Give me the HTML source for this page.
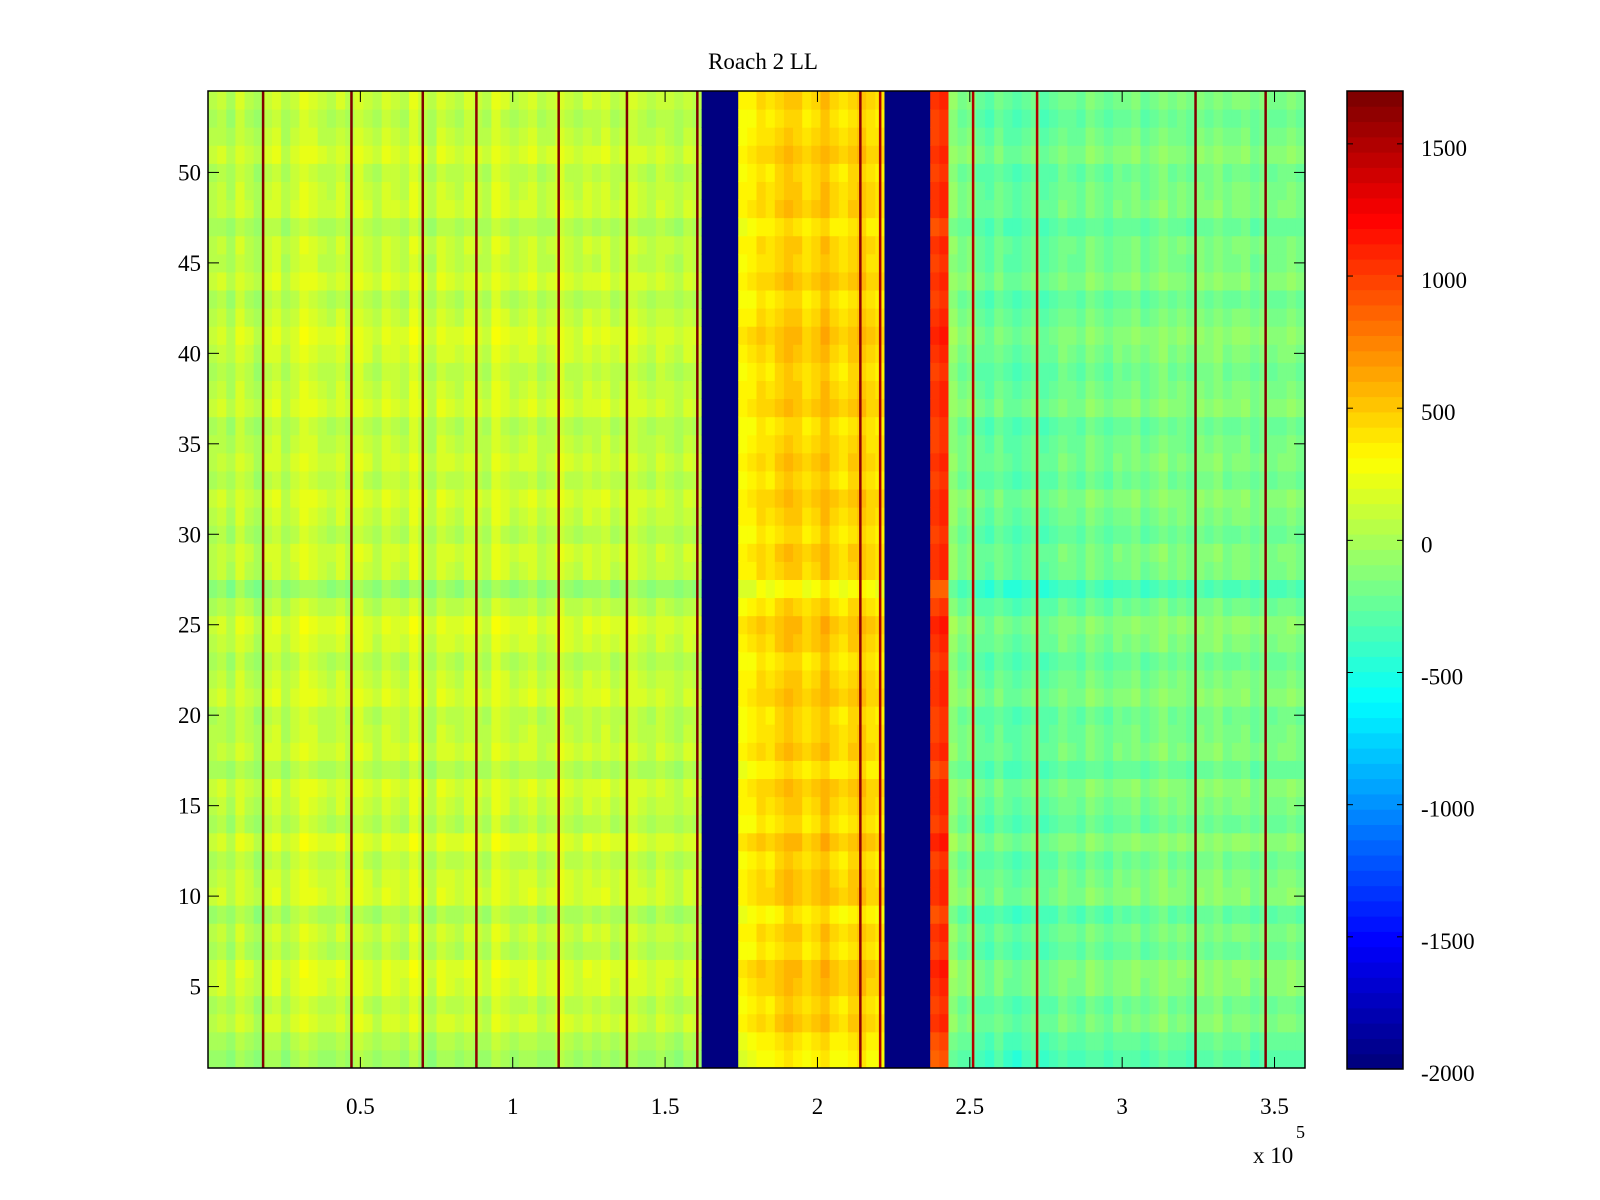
<!DOCTYPE html>
<html><head><meta charset="utf-8"><style>
body{margin:0;background:#fff;}
svg{display:block;font-family:"Liberation Serif",serif;}
</style></head><body>
<svg id="fig" width="1600" height="1200" viewBox="0 0 1600 1200">
<rect width="1600" height="1200" fill="#fff"/>
<text x="763" y="69" font-size="23" text-anchor="middle">Roach 2 LL</text>
<g id="cells"></g>
<g id="lines"></g>
<g id="cbar"></g>
<g id="axes"></g>
</svg>
<script>
// ---- data ----
const colStep = 3000; // x units per column
const colValues = [
 30,80,0,130,60,-20,100,140,20,110,180,140,80,60,120,40,160,100,30,140,
 110,60,180,80,20,140,100,60,130,80,40,180,120,60,100,140,30,80,160,100,
 50,120,80,140,60,100,130,80,40,110,70,20,100,60,-2000,-2000,-2000,-2000,300,350,
 420,380,450,520,480,400,460,540,430,380,450,500,420,380,-2000,-2000,-2000,-2000,-2000,1000,
 1050,-100,-200,-150,-250,-300,-200,-280,-320,-250,-200,-300,-250,-180,-220,-260,-150,-200,-250,-180,
 -200,-150,-230,-180,-120,-200,-160,-220,-150,-180,-120,-200,-170,-140,-220,-160,-200,-180,-150,-200
];
const rowOffsets = [
 -120,-60,40,-20,60,80,-40,20,-80,60,40,-20,80,-40,20,60,-60,40,0,-20,
 60,20,-40,40,80,-20,-160,20,40,-40,20,60,-20,40,0,-40,60,20,-20,40,
 80,20,-40,60,0,20,-60,40,20,-20,60,0,-40,20
];
const stripeX = [18000,47000,70400,88000,115000,137400,160500,214000,220500,251000,272000,324000,347000];
const stripeVal = [1700,1700,1700,1600,1700,1700,1700,1600,1500,1500,1500,1700,1700];
const xTicks = [0.5,1,1.5,2,2.5,3,3.5];
const yTicks = [5,10,15,20,25,30,35,40,45,50];
const cTicks = [-2000,-1500,-1000,-500,0,500,1000,1500];
// ---- layout ----
const L=208,R=1305,T=91,B=1068;
const xMax=360000, yMin=0.5, yMax=54.5, cMin=-2000, cMax=1700;
const sx=v=>L+(v/xMax)*(R-L);
const sy=v=>B-(v-yMin)/(yMax-yMin)*(B-T);
const CL=1347,CR=1403,CT=91,CB=1069;
const sc=v=>CB-(v-cMin)/(cMax-cMin)*(CB-CT);
function jet(t){t=Math.max(0,Math.min(1,t));t=Math.min(63,Math.floor(t*64))/63;
 const f=x=>Math.max(0,Math.min(1,x));
 const r=f(1.5-Math.abs(4*t-3)),g=f(1.5-Math.abs(4*t-2)),b=f(1.5-Math.abs(4*t-1));
 return `rgb(${Math.round(r*255)},${Math.round(g*255)},${Math.round(b*255)})`;}
const cnorm=v=>(v-cMin)/(cMax-cMin);
const NS='http://www.w3.org/2000/svg';
function mk(tag,attrs,parent){const e=document.createElementNS(NS,tag);for(const k in attrs)e.setAttribute(k,attrs[k]);parent.appendChild(e);return e;}
const cells=document.getElementById('cells');
colValues.forEach((cv,i)=>{
 const x0=sx(i*colStep),x1=sx((i+1)*colStep);
 rowOffsets.forEach((ro,j)=>{
  const v=cv<=-2000?cv:cv+ro;
  const r=mk('rect',{x:x0,y:sy(j+1.5),width:x1-x0+0.5,height:sy(j+0.5)-sy(j+1.5)+0.5,fill:jet(cnorm(v))},cells);
  
  
 });
});
const lines=document.getElementById('lines');
stripeX.forEach((x,i)=>{
 const r=mk('rect',{x:sx(x)-1,y:T,width:2.5,height:B-T,fill:jet(cnorm(stripeVal[i]))},lines);
 
 
});
// colorbar
const cb=document.getElementById('cbar');
for(let k=0;k<64;k++){
 const v0=cMin+k*(cMax-cMin)/64,v1=cMin+(k+1)*(cMax-cMin)/64;
 const r=mk('rect',{x:CL,y:sc(v1),width:CR-CL,height:sc(v0)-sc(v1)+0.5,fill:jet((k+0.5)/64)},cb);
 
 
}
mk('rect',{x:CL,y:CT,width:CR-CL,height:CB-CT,fill:'none',stroke:'#000','stroke-width':1.5},cb);
cTicks.forEach(v=>{
 const y=sc(v);
 mk('line',{x1:CL,x2:CL+6,y1:y,y2:y,stroke:'#000'},cb);
 mk('line',{x1:CR-6,x2:CR,y1:y,y2:y,stroke:'#000'},cb);
 const t=mk('text',{x:1421,y:y+12,'font-size':23},cb);t.textContent=v;
 
 
});
// axes
const ax=document.getElementById('axes');
mk('rect',{x:L,y:T,width:R-L,height:B-T,fill:'none',stroke:'#000','stroke-width':1.5},ax);
xTicks.forEach(v=>{
 const x=sx(v*1e5);
 mk('line',{x1:x,x2:x,y1:B,y2:B-11,stroke:'#000'},ax);
 mk('line',{x1:x,x2:x,y1:T,y2:T+11,stroke:'#000'},ax);
 const t=mk('text',{x:x,y:1114,'font-size':23,'text-anchor':'middle'},ax);t.textContent=v;
 
 
});
yTicks.forEach(v=>{
 const y=sy(v);
 mk('line',{x1:L,x2:L+11,y1:y,y2:y,stroke:'#000'},ax);
 mk('line',{x1:R-11,x2:R,y1:y,y2:y,stroke:'#000'},ax);
 const t=mk('text',{x:201,y:y+8,'font-size':23,'text-anchor':'end'},ax);t.textContent=v;
 
 
});
const ex=mk('text',{x:1253,y:1163,'font-size':23},ax);ex.textContent='x 10';


const e5=mk('text',{x:1296,y:1138,'font-size':18},ax);e5.textContent='5';


</script>
</body></html>
